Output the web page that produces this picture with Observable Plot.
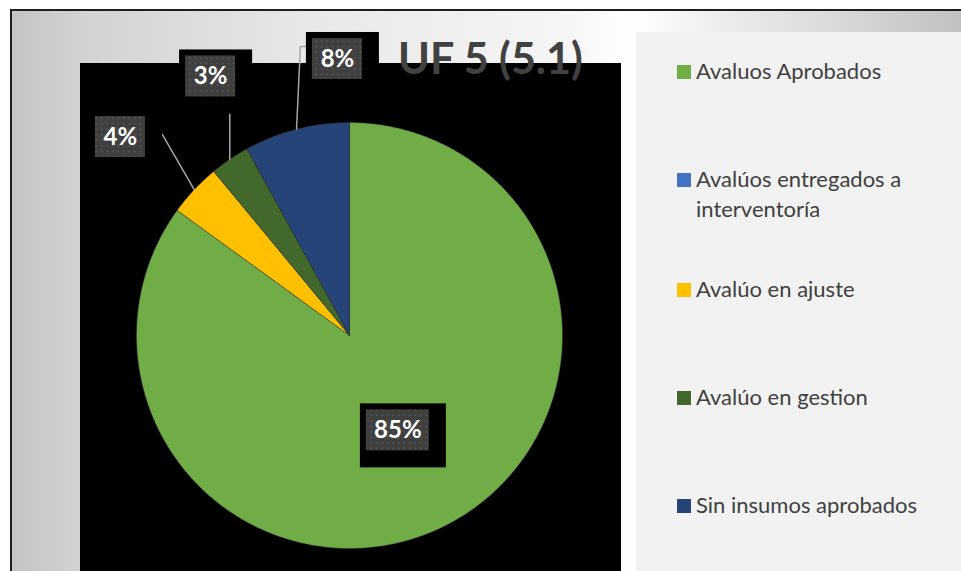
<!DOCTYPE html>
<html>
<head>
<meta charset="utf-8">
<script src="https://cdn.jsdelivr.net/npm/d3@7"></script>
<script src="https://cdn.jsdelivr.net/npm/@observablehq/plot@0.6"></script>
<style>
  html, body { margin: 0; padding: 0; background: #fff; }
  #wrap { position: relative; width: 961px; height: 571px; overflow: hidden; background: #fff; font-family: Lato, "Open Sans", sans-serif; }
  #frame { position: absolute; left: 10px; top: 9px; width: 1000px; height: 640px; box-sizing: border-box;
    border: 2px solid #1e1e1e;
    background: linear-gradient(to right, #c4c4c4 0px, #d2d2d2 70px, #e8e8e8 300px, #f6f6f6 560px, #ffffff 620px, #eeeeee 700px, #d8d8d8 830px, #c0c0c0 951px); }
  #plotarea { position: absolute; left: 80px; top: 63px; width: 541px; height: 520px; background: #000; }
  #legendpanel { position: absolute; left: 636px; top: 32px; width: 340px; height: 560px; background: #f2f2f2; }
  #chart { position: absolute; left: 0; top: 0; }
  #title { position: absolute; left: 398px; top: 36px; font: bold 43px Lato, sans-serif; line-height: 43px; color: #414141; white-space: nowrap; }
  .item { position: absolute; left: 677px; width: 260px; font-size: 22px; line-height: 30px; color: #404040; padding-left: 19px; box-sizing: border-box; }
  .sw { position: absolute; left: 0; top: 9px; width: 14px; height: 14px; }
</style>
</head>
<body>
<div id="wrap">
  <div id="frame"></div>
  <div id="plotarea"></div>
  <div id="legendpanel"></div>
  <div id="chart"></div>
  <div id="title"></div>
  <div id="legend"></div>
</div>
<script>
// ---- data ----
const title = "UF 5 (5.1)";
const categories = ["Avaluos Aprobados", "Avalúos entregados a interventoría", "Avalúo en ajuste", "Avalúo en gestion", "Sin insumos aprobados"];
const values = [85, 0, 4, 3, 8];
const percentLabels = ["85%", "", "4%", "3%", "8%"];
const colors = ["#70AD47", "#4472C4", "#FFC000", "#43682B", "#264478"];

// ---- layout (not data) ----
const W = 961, H = 571;
const CX = 349, CY = 335, R = 213;
// label placement: [angle nudge in degrees from slice middle, radius factor]
const labelPlacement = [[0, 0.5], null, [-2.3, 1.423], [6.0, 1.38], [11.9, 1.2994]];
const legendTops = [56, 164, 274, 382, 490];

const arcs = d3.pie().sort(null).value(d => d)(values);

// slice polygons
const slices = [];
arcs.forEach((a, i) => {
  if (a.endAngle - a.startAngle <= 0) return;
  const pts = [{x: CX, y: CY}];
  const n = Math.max(2, Math.ceil((a.endAngle - a.startAngle) / (Math.PI / 360)));
  for (let k = 0; k <= n; k++) {
    const t = a.startAngle + (a.endAngle - a.startAngle) * k / n;
    pts.push({x: CX + R * Math.sin(t), y: CY - R * Math.cos(t)});
  }
  pts.push({x: CX, y: CY});
  slices.push({cat: categories[i], color: colors[i], pts});
});

// labels
const labels = [];
arcs.forEach((a, i) => {
  if (!percentLabels[i] || !labelPlacement[i]) return;
  const mid = (a.startAngle + a.endAngle) / 2;
  const [nudge, f] = labelPlacement[i];
  const t = mid + nudge * Math.PI / 180;
  const lx = CX + R * f * Math.sin(t), ly = CY - R * f * Math.cos(t);
  const w = 24 + 13 * percentLabels[i].length, h = 41;
  labels.push({text: percentLabels[i], lx, ly, w, h, mid, outside: f > 1,
    ox1: lx - w / 2 - 6, ox2: lx + w / 2 + 17, oy1: ly - h / 2 - 6, oy2: ly + h / 2 + 17});
});

// leader lines (Excel-like): from slice edge to label shape edge
const leaders = [];
labels.filter(d => d.outside).forEach((d, j) => {
  const sx = CX + R * Math.sin(d.mid), sy = CY - R * Math.cos(d.mid);
  let pts;
  if (sx >= d.ox1 && sx <= d.ox2) {
    pts = [[sx, sy], [sx, d.oy2]];
  } else if (sx > d.ox2) {
    pts = [[sx, sy], [d.ox2, d.ly - 2.5]];
  } else {
    pts = [[sx, sy], [d.ox1 - 6, d.ly - 12.5], [d.ox1, d.ly - 12.5]];
  }
  pts.forEach(p => leaders.push({id: j, x: p[0], y: p[1]}));
});

const marks = [];
slices.forEach(s => {
  marks.push(Plot.line(s.pts, {x: "x", y: "y", fill: s.color, stroke: "#2e2e2e", strokeWidth: 0.6, strokeOpacity: 0.8}));
});
marks.push(Plot.line(leaders, {x: "x", y: "y", z: "id", stroke: "#a5a5a5", strokeWidth: 1.5, strokeLinejoin: "miter"}));
marks.push(Plot.rect(labels, {x1: "ox1", x2: "ox2", y1: "oy1", y2: "oy2", fill: "#000"}));
marks.push(Plot.rect(labels, {x1: d => d.lx - d.w / 2, x2: d => d.lx + d.w / 2, y1: d => d.ly - d.h / 2, y2: d => d.ly + d.h / 2, fill: "url(#dots)"}));
marks.push(Plot.text(labels, {x: "lx", y: "ly", text: "text", fill: "#ffffff", fontSize: 24, fontWeight: "bold", fontFamily: "Lato, sans-serif"}));

const svg = Plot.plot({
  width: W, height: H,
  margin: 0,
  style: "background: transparent; overflow: visible;",
  x: {domain: [0, W], range: [0, W], axis: null},
  y: {domain: [0, H], range: [0, H], axis: null},
  marks
});

const defs = d3.select(svg).insert("defs", ":first-child");
const pat = defs.append("pattern").attr("id", "dots").attr("width", 5.5).attr("height", 5.5).attr("patternUnits", "userSpaceOnUse");
pat.append("rect").attr("width", 5.5).attr("height", 5.5).attr("fill", "#3f3f3f");
pat.append("rect").attr("x", 2).attr("y", 2).attr("width", 1.6).attr("height", 1.6).attr("fill", "#585858");

document.getElementById("chart").appendChild(svg);
document.getElementById("title").textContent = title;

const legend = document.getElementById("legend");
categories.forEach((c, i) => {
  const div = document.createElement("div");
  div.className = "item";
  div.style.top = legendTops[i] + "px";
  const sw = document.createElement("span");
  sw.className = "sw";
  sw.style.background = colors[i];
  div.appendChild(sw);
  div.appendChild(document.createTextNode(c));
  legend.appendChild(div);
});
</script>
</body>
</html>
